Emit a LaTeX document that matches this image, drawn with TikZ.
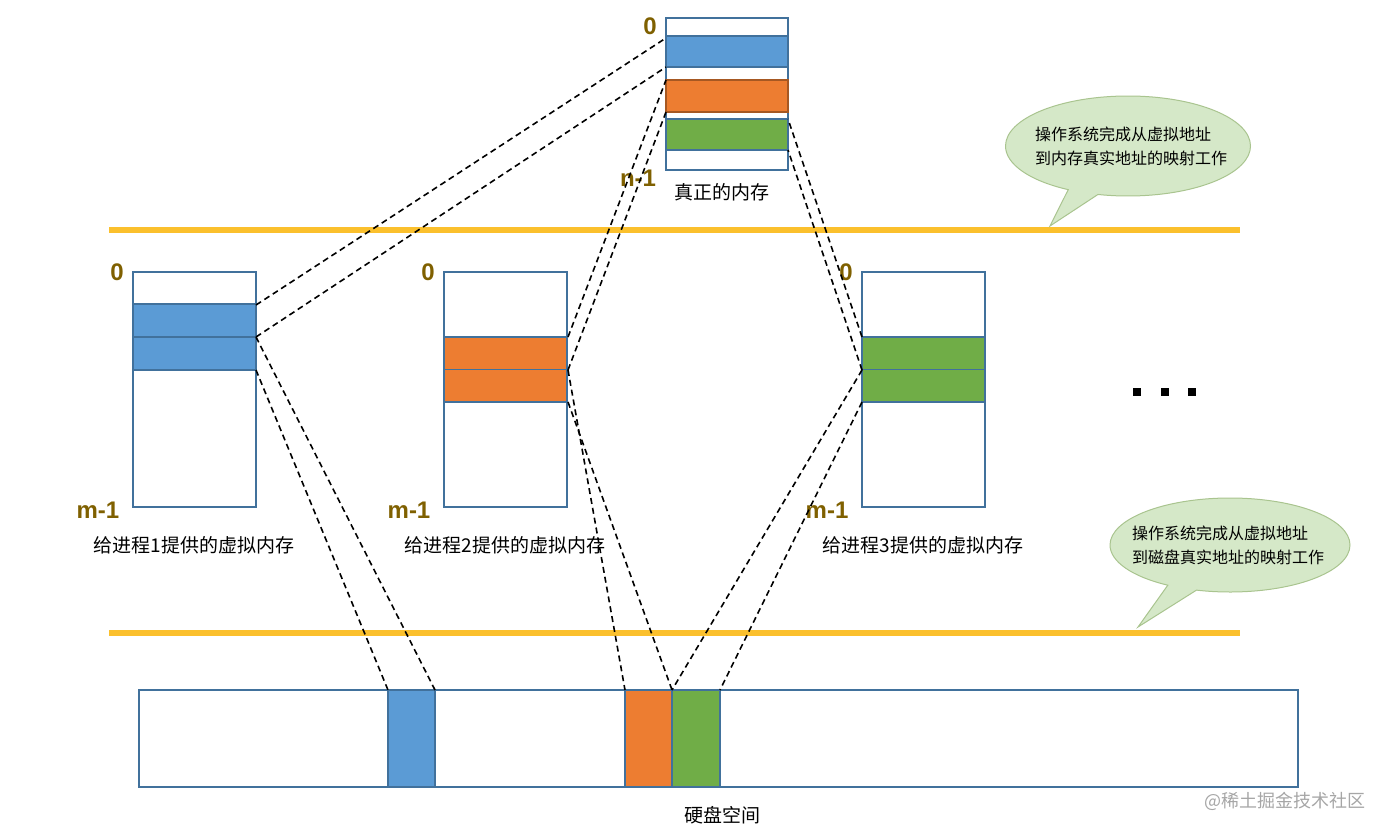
\documentclass[tikz,border=0pt]{standalone}
\usepackage{fontspec}
\setmainfont{Liberation Sans}
\newfontfamily\cjk{Noto Sans CJK SC}
\usetikzlibrary{shapes.callouts}
\definecolor{bl}{HTML}{5B9BD5}
\definecolor{or}{HTML}{ED7D31}
\definecolor{gr}{HTML}{70AD47}
\definecolor{fr}{HTML}{41719C}
\definecolor{gold}{HTML}{7F6000}
\definecolor{yl}{HTML}{FBC02D}
\definecolor{cf}{HTML}{D5E8C8}
\definecolor{cd}{HTML}{A9C48F}
\begin{document}
\begin{tikzpicture}[x=1pt,y=-1pt,
  box/.style={draw=fr,line width=1.8pt,fill=white},
  cell/.style={draw=fr,line width=1.5pt},
  dl/.style={line width=1.6pt,dash pattern=on 6pt off 4pt},
  idx/.style={text=gold,font=\fontsize{24}{26}\selectfont\bfseries},
  lbl/.style={font=\cjk\fontsize{19}{21}\selectfont},
  bar/.style={yl,line width=6pt},
  dot/.style={fill=black,minimum size=8pt,inner sep=0pt},
  bubble/.style={draw=cd,line width=1pt,fill=cf,ellipse callout,inner sep=0pt},
  btext/.style={font=\cjk\fontsize{16}{24}\selectfont,align=left}]
\useasboundingbox (0,0) rectangle (1386,835);
% bars
\draw[bar] (109,230) -- (1240,230);
\draw[bar] (109,633) -- (1240,633);
% real memory
\draw[box] (666,18) rectangle (788,170);
\draw[cell,fill=bl] (666,36) rectangle (788,67);
\draw[cell,fill=or,draw=or!70!black] (666,80) rectangle (788,112);
\draw[cell,fill=gr] (666,119) rectangle (788,150);
\node[idx] (r0) at (650,26) {0};
\node[idx] (rn) at (638,178) {n-1};
\node[lbl] (rc) at (722,192) {真正的内存};
% virtual boxes
\foreach \x/\c/\t/\b/\n in {133/bl/304/370/1,444/or/337/402/2,862/gr/337/402/3}{
  \draw[box] (\x,272) rectangle (\x+123,507);
  \draw[cell,fill=\c] (\x,\t) rectangle (\x+123,\b);
  \draw[cell] (\x,{(\t+\b)/2}) -- (\x+123,{(\t+\b)/2});
  \node[idx] at (\x-16,272) {0};
  \node[idx] at (\x-35,510) {m-1};
  \node[lbl] at (\x+61,545) {给进程\n 提供的虚拟内存};
}
\node[dot] (d1) at (1137,392) {};
\node[dot] (d2) at (1165,392) {};
\node[dot] (d3) at (1192,392) {};
% disk
\draw[box] (139,690) rectangle (1298,787);
\draw[cell,fill=bl] (388,690) rectangle (435,787);
\draw[cell,fill=or] (625,690) rectangle (672,787);
\draw[cell,fill=gr] (672,690) rectangle (720,787);
\node[lbl] (dc) at (722,815) {硬盘空间};
% dashed
\draw[dl] (256,305) -- (666,38);
\draw[dl] (256,337) -- (666,67);
\draw[dl] (256,370) -- (388,690);
\draw[dl] (256,337) -- (435,690);
\draw[dl] (568,337) -- (666,80);
\draw[dl] (568,370) -- (666,112);
\draw[dl] (568,370) -- (625,690);
\draw[dl] (568,402) -- (672,690);
\draw[dl] (862,337) -- (788,119);
\draw[dl] (862,370) -- (788,150);
\draw[dl] (862,370) -- (672,690);
\draw[dl] (862,402) -- (720,690);
% callouts
\node[bubble,minimum width=245pt,minimum height=100pt,callout absolute pointer={(1050,226)}] (c1) at (1128,146) {};
\node[btext] (t1) at (1131,146) {操作系统完成从虚拟地址\\到内存真实地址的映射工作};
\node[bubble,minimum width=240pt,minimum height=94pt,callout absolute pointer={(1138,627)}] (c2) at (1230,545) {};
\node[btext] (t2) at (1228,545) {操作系统完成从虚拟地址\\到磁盘真实地址的映射工作};
\node[text=gray!70,font=\cjk\fontsize{18}{20}\selectfont] (wm) at (1285,801) {@稀土掘金技术社区};
\end{tikzpicture}
\end{document}
